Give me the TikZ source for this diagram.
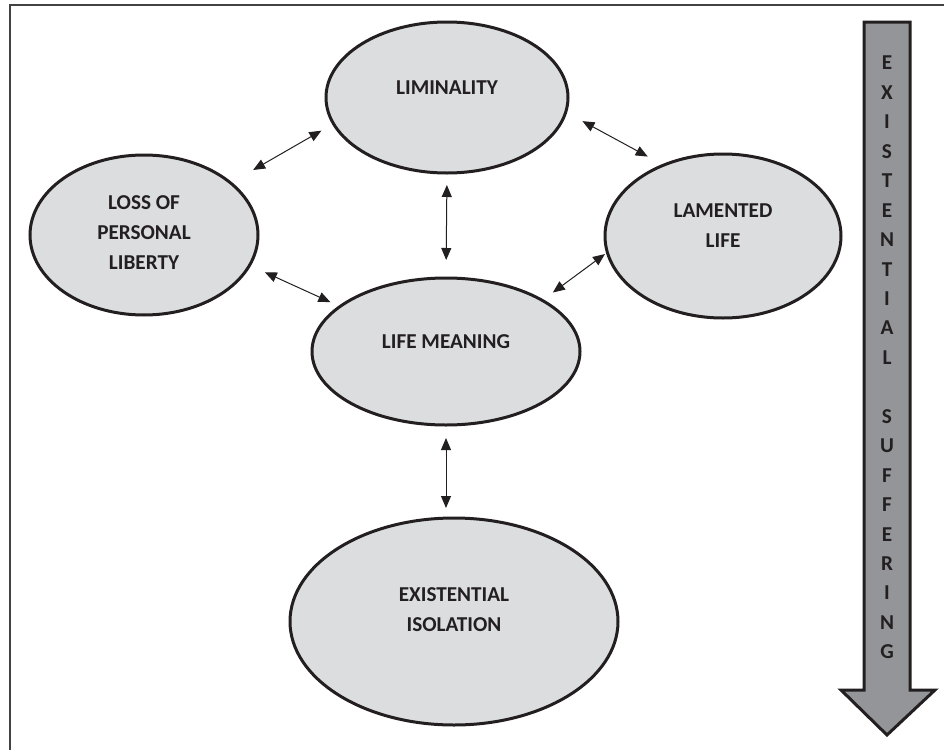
\documentclass[tikz,border=0pt]{standalone}
\usepackage{fontspec}
\setmainfont{Carlito}
\usetikzlibrary{arrows.meta,shapes.geometric}

\definecolor{bubblegray}{HTML}{DCDDDF}
\definecolor{shaftgray}{HTML}{939598}
\definecolor{ink}{HTML}{231F20}

\tikzset{
	bubble/.style={ellipse,draw=ink,line width=1.5pt,fill=bubblegray,inner sep=0pt,outer sep=0pt},
	lbl/.style={font=\fontsize{10.6}{15}\selectfont\bfseries,text=ink,align=center,inner sep=0pt},
	link/.style={<->,line width=0.5pt,draw=ink},
	bigarrow/.style={draw=ink,line width=1.5pt,fill=shaftgray,line join=miter},
}

\begin{document}
\begin{tikzpicture}[x=0.5pt,y=-0.5pt,>={Triangle[length=6pt,width=5pt]}]
			\useasboundingbox (0,0) rectangle (944,750);

			\draw[ink!85,line width=0.8pt] (10,760)--(10,5)--(955,5); % frame

			% ellipses
			\node[bubble,minimum width=121pt,minimum height=75.5pt] (lim) at (447,97.5) {};
			\node[bubble,minimum width=114pt,minimum height=80pt] (loss) at (144,235) {};
			\node[bubble,minimum width=118pt,minimum height=82pt] (lamented) at (723,236) {};
			\node[bubble,minimum width=134pt,minimum height=73.5pt] (meaning) at (446,351.5) {};
			\node[bubble,minimum width=164pt,minimum height=103.5pt] (isolation) at (454,621.5) {};

			% texts
			\node[lbl] (lim-t) at ([yshift=5pt]lim.center) {LIMINALITY};
			\node[lbl] (loss-t) at ([yshift=1pt]loss.center) {LOSS OF\\PERSONAL\\LIBERTY};
			\node[lbl] (lamented-t) at ([yshift=5.25pt]lamented.center) {LAMENTED\\LIFE};
			\node[lbl] (meaning-t) at ([yshift=5pt]meaning.center) {LIFE MEANING};
			\node[lbl] (isolation-t) at ([yshift=5.75pt]isolation.center) {EXISTENTIAL\\ISOLATION};

			% links
			\draw[link,shorten <=13pt,shorten >=7pt] (loss.31)--(lim.193.5);
			\draw[link,shorten <=8.4pt,shorten >=5.3pt] (loss.-16)--(meaning.157.4);
			\draw[link,shorten <=9.5pt,shorten >=9pt] (lim.-7.7)--(lamented.130.5);
			\draw[link,shorten <=1.5pt,shorten >=6.6pt] (lamented.188.5)--(meaning.28.3);
			\draw[link,shorten <=6pt,shorten >=9pt] (lim.south)--(meaning.north);
			\draw[link,shorten <=6.5pt,shorten >=5pt] (meaning.south)--(meaning.south |- isolation.north);

			% big arrow on the right
			\draw[bigarrow] (864,22)--(910,22)--(910,690)--(935,690)--(887,735)--(841,690)--(864,690)--cycle;
			\foreach \ch [count=\i from 0] in {E,X,I,S,T,E,N,T,I,A,L,{},S,U,F,F,E,R,I,N,G}
				\node[lbl] (letter-\i) at (887,{63+29.45*\i}) {\ch};
		\end{tikzpicture}
\end{document}
